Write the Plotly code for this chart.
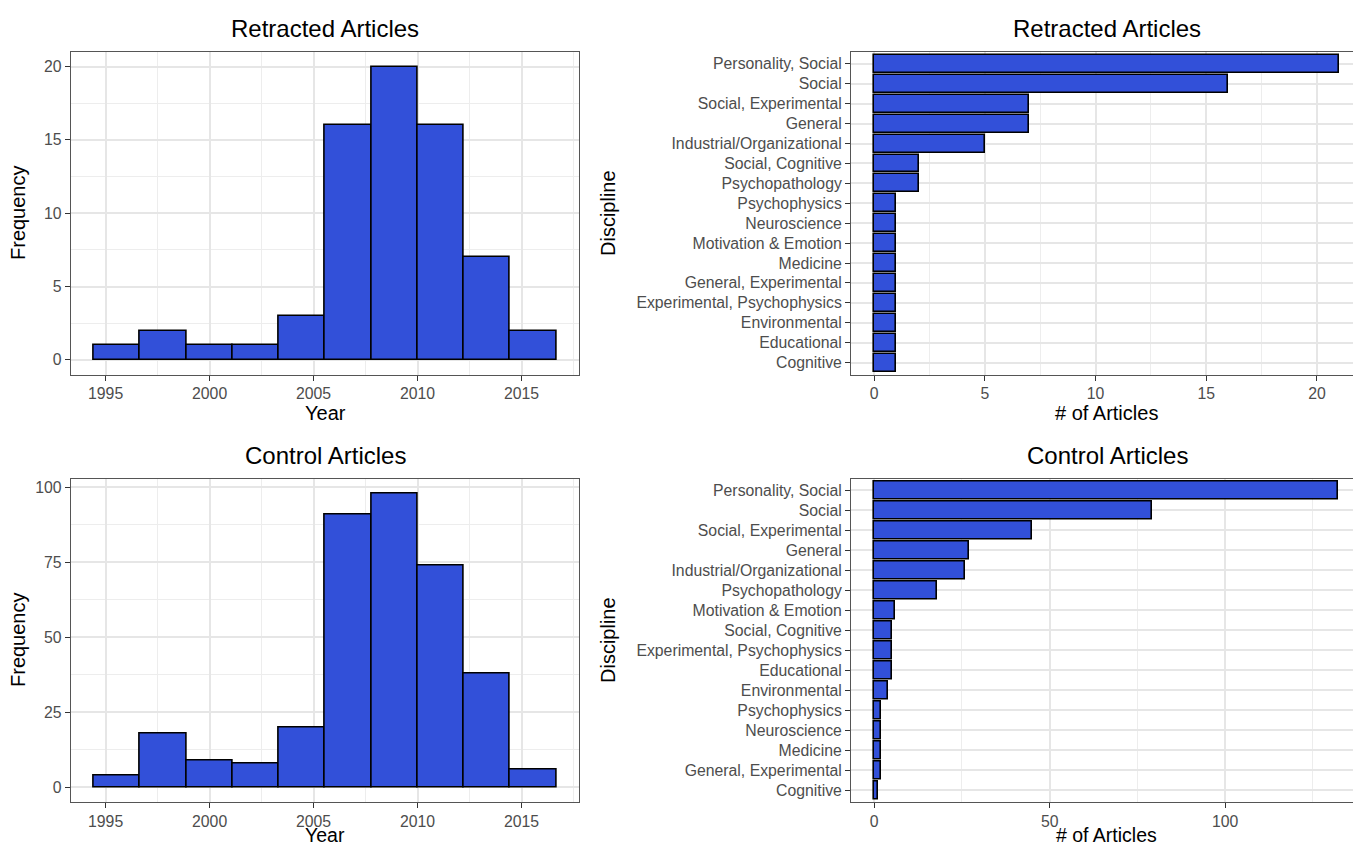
import plotly.graph_objects as go

# ---- data -------------------------------------------------------------
# Publication-year histograms (10 equal-width bins)
bin_start = 1994.43
bin_width = 2.224
retracted_year_counts = [1, 2, 1, 1, 3, 16, 20, 16, 7, 2]
control_year_counts = [4, 18, 9, 8, 20, 91, 98, 74, 38, 6]

# Articles per discipline (listed top to bottom)
retracted_disciplines = [
    "Personality, Social", "Social", "Social, Experimental", "General",
    "Industrial/Organizational", "Social, Cognitive", "Psychopathology",
    "Psychophysics", "Neuroscience", "Motivation & Emotion", "Medicine",
    "General, Experimental", "Experimental, Psychophysics", "Environmental",
    "Educational", "Cognitive",
]
retracted_counts = [21, 16, 7, 7, 5, 2, 2, 1, 1, 1, 1, 1, 1, 1, 1, 1]

control_disciplines = [
    "Personality, Social", "Social", "Social, Experimental", "General",
    "Industrial/Organizational", "Psychopathology", "Motivation & Emotion",
    "Social, Cognitive", "Experimental, Psychophysics", "Educational",
    "Environmental", "Psychophysics", "Neuroscience", "Medicine",
    "General, Experimental", "Cognitive",
]
control_counts = [132, 79, 45, 27, 26, 18, 6, 5, 5, 5, 4, 2, 2, 2, 2, 1]

# ---- styling ----------------------------------------------------------
W, H = 1353, 848
FILL = "#3250D9"
FONT = "Liberation Sans, Arial, Helvetica, sans-serif"
GRID = "#E6E6E6"
MINOR_GRID = "#EDEDED"
BORDER = "#555555"
TICK_COLOR = "#4D4D4D"


def fx(px):
    return px / W


def fy(py):
    return 1 - py / H


bin_centers = [bin_start + bin_width * (i + 0.5) for i in range(len(retracted_year_counts))]

fig = go.Figure()

bar_style = dict(color=FILL, line=dict(color="black", width=1.6))

# Year histograms
fig.add_trace(go.Bar(x=bin_centers, y=retracted_year_counts, width=bin_width,
                     marker=bar_style, xaxis="x", yaxis="y", showlegend=False))
fig.add_trace(go.Bar(x=bin_centers, y=control_year_counts, width=bin_width,
                     marker=bar_style, xaxis="x3", yaxis="y3", showlegend=False))

# Discipline bars (horizontal)
fig.add_trace(go.Bar(x=retracted_counts, y=retracted_disciplines, orientation="h", width=0.9,
                     marker=bar_style, xaxis="x2", yaxis="y2", showlegend=False))
fig.add_trace(go.Bar(x=control_counts, y=control_disciplines, orientation="h", width=0.9,
                     marker=bar_style, xaxis="x4", yaxis="y4", showlegend=False))

tick_font = dict(family=FONT, size=15.8, color=TICK_COLOR)


def num_axis(domain, rng, dtick, minor, anchor, mirror=True, tick0=0):
    return dict(
        domain=domain, range=rng, anchor=anchor, tick0=tick0, dtick=dtick,
        showgrid=True, gridcolor=GRID, gridwidth=1.8,
        minor=dict(tick0=tick0, dtick=minor, showgrid=True, gridcolor=MINOR_GRID, gridwidth=1.1),
        zeroline=False, showline=True, linecolor=BORDER, linewidth=1, mirror=mirror,
        ticks="outside", ticklen=5, tickcolor="#333333", tickwidth=1.2,
        tickfont=tick_font, fixedrange=True,
    )


def cat_axis(domain, cats, anchor):
    return dict(
        domain=domain, anchor=anchor, type="category",
        categoryorder="array", categoryarray=list(reversed(cats)),
        tickmode="array", tickvals=cats, ticktext=cats,
        range=[-0.6, len(cats) - 0.4],
        showgrid=True, gridcolor=GRID, gridwidth=1.8,
        zeroline=False, showline=True, linecolor=BORDER, linewidth=1, mirror=False,
        ticks="outside", ticklen=5, tickcolor="#333333", tickwidth=1.2,
        tickfont=tick_font, fixedrange=True,
    )


left_x = [fx(70.7), fx(579.3)]
right_x = [fx(851), 1.0]
top_y = [fy(374.5), fy(52)]
bot_y = [fy(802), fy(478.5)]

fig.update_layout(
    width=W, height=H,
    margin=dict(l=0, r=0, t=0, b=0),
    paper_bgcolor="white", plot_bgcolor="white",
    bargap=0,
    font=dict(family=FONT),
    xaxis=num_axis(left_x, [1993.32, 2017.78], 5, 2.5, "y", tick0=1995),
    yaxis=num_axis(top_y, [-1, 21], 5, 2.5, "x"),
    xaxis2=num_axis(right_x, [-1.05, 21.63], 5, 2.5, "y2"),
    yaxis2=cat_axis(top_y, retracted_disciplines, "x2"),
    xaxis3=num_axis(left_x, [1993.32, 2017.78], 5, 2.5, "y3", tick0=1995),
    yaxis3=num_axis(bot_y, [-4.9, 102.9], 25, 12.5, "x3"),
    xaxis4=num_axis(right_x, [-6.6, 136.4], 50, 25, "y4"),
    yaxis4=cat_axis(bot_y, control_disciplines, "x4"),
)


def label(text, px, py, size, angle=0, yanchor="middle"):
    fig.add_annotation(text=text, x=fx(px), y=fy(py), xref="paper", yref="paper",
                       showarrow=False, textangle=angle, xanchor="center", yanchor=yanchor,
                       font=dict(family=FONT, size=size, color="black"))


# Panel titles
label("Retracted Articles", 325, 28, 24)
label("Retracted Articles", 1107, 28, 24)
label("Control Articles", 325, 455, 24)
label("Control Articles", 1107, 455, 24)

# Axis titles
label("Frequency", 18, 213, 20, -90)
label("Frequency", 18, 640, 20, -90)
label("Year", 325, 413, 20)
label("Year", 325, 848, 19.5, yanchor="bottom")
label("Discipline", 608, 213, 20, -90)
label("Discipline", 608, 640, 20, -90)
label("# of Articles", 1106, 413, 20)
label("# of Articles", 1106, 848, 19.5, yanchor="bottom")

fig.write_html("out.html")
